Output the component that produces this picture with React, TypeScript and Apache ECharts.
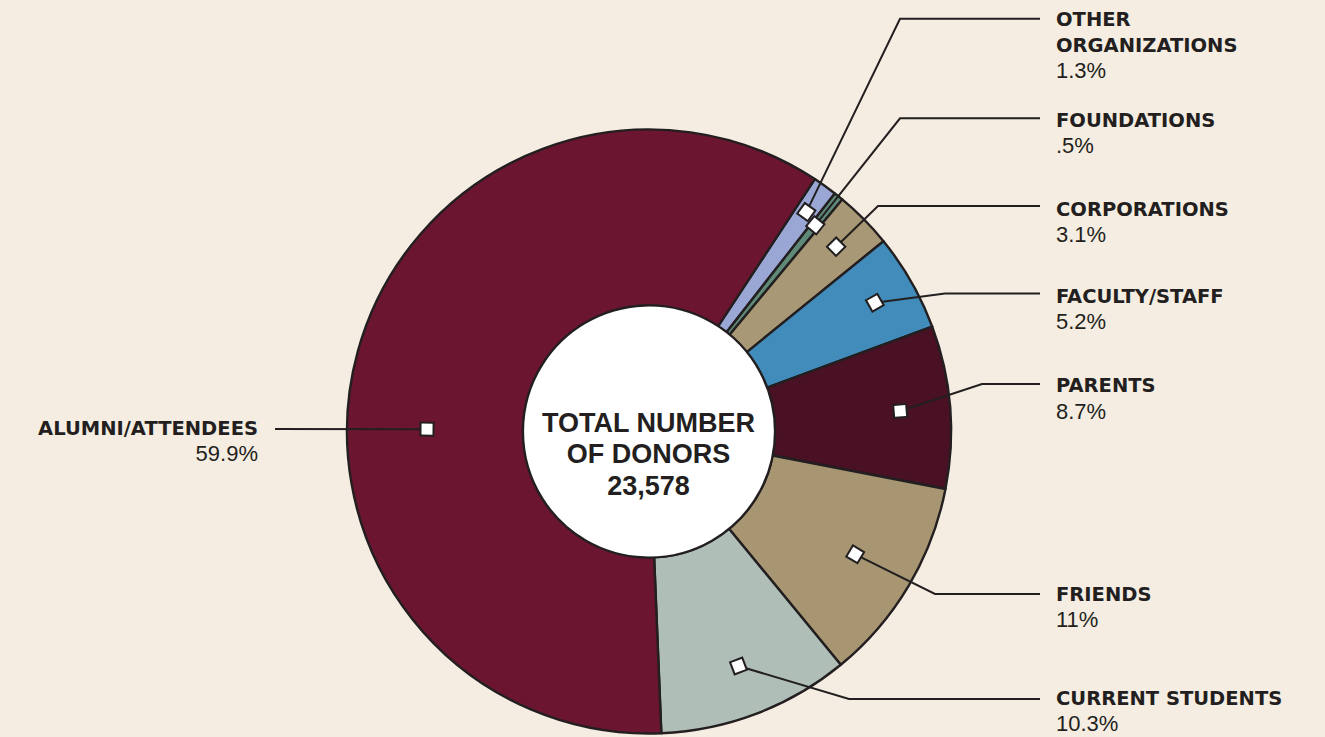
import React, { useEffect, useRef } from "react";
import * as echarts from "echarts";

// ---- data ----
const categories = [
  "OTHER\nORGANIZATIONS",
  "FOUNDATIONS",
  "CORPORATIONS",
  "FACULTY/STAFF",
  "PARENTS",
  "FRIENDS",
  "CURRENT STUDENTS",
  "ALUMNI/ATTENDEES",
];
const shares = [1.3, 0.5, 3.1, 5.2, 8.7, 11, 10.3, 59.9];
const shareLabels = ["1.3%", ".5%", "3.1%", "5.2%", "8.7%", "11%", "10.3%", "59.9%"];
const centerTitle = ["TOTAL NUMBER", "OF DONORS"];
const totalDonors = "23,578";

// ---- styling / layout ----
const colors = ["#9AA6D3", "#5F8A78", "#A89875", "#418CBA", "#4A1125", "#A89673", "#AFBFB8", "#6C1530"];
const INK = "#231F20";
const BG = "#F5EDE1";
const CX = 649;
const CY = 431.5;
const R_IN = 126;
const R_OUT = 302;
const START_FROM_TOP = 33.3; // degrees clockwise from 12 o'clock
const markerR = [270, 265, 263, 260, 252, 240, 251, 222];
const markerAngleOverride: (number | null)[] = [null, null, null, null, null, null, null, 270.6];
const elbowX = [900, 900, 878, 945, 982, 935, 849, 275];
const elbowY = [18.7, 118.3, 206, 293.5, 384, 594, 699, 429];
const lineEndX = [1040, 1040, 1040, 1040, 1040, 1040, 1040, 275];
const textY = [19.5, 120, 209, 296, 385.5, 594, 698, 428];
const LINE_H = 25.5;

export default function App() {
  const ref = useRef<HTMLDivElement>(null);
  useEffect(() => {
    if (!ref.current) return;
    const chart = echarts.init(ref.current, null, { renderer: "svg" });
    const total = shares.reduce((a, b) => a + b, 0);
    const graphics: any[] = [];

    graphics.push({
      type: "circle",
      z: 100,
      shape: { cx: CX, cy: CY, r: R_IN },
      style: { fill: "#FFFFFF", stroke: INK, lineWidth: 2.2 },
    });

    let cum = 0;
    const markers: any[] = [];
    shares.forEach((v, i) => {
      const a0 = START_FROM_TOP + (cum / total) * 360;
      cum += v;
      const a1 = START_FROM_TOP + (cum / total) * 360;
      const mid = markerAngleOverride[i] ?? (a0 + a1) / 2;
      const rad = (mid * Math.PI) / 180;
      const mx = CX + markerR[i] * Math.sin(rad);
      const my = CY - markerR[i] * Math.cos(rad);
      const pts =
        i === shares.length - 1
          ? [[mx, my], [lineEndX[i], elbowY[i]]]
          : [[mx, my], [elbowX[i], elbowY[i]], [lineEndX[i], elbowY[i]]];
      graphics.push({
        type: "polyline",
        z: 101,
        shape: { points: pts },
        style: { stroke: INK, lineWidth: 2, fill: null },
      });
      markers.push({
        type: "rect",
        z: 102,
        x: mx,
        y: my,
        rotation: -rad,
        shape: { x: -6.5, y: -6.5, width: 13, height: 13 },
        style: { fill: "#FFFFFF", stroke: INK, lineWidth: 2 },
      });

      const left = i === shares.length - 1;
      const tx = left ? 258 : 1056;
      const lines = categories[i].split("\n");
      lines.forEach((ln, k) => {
        graphics.push({
          type: "text",
          z: 103,
          x: tx,
          y: textY[i] + k * LINE_H,
          style: {
            text: ln,
            fill: INK,
            fontFamily: "DejaVu Sans",
            fontWeight: "bold",
            fontSize: 19.5,
            align: left ? "right" : "left",
            verticalAlign: "middle",
          },
        });
      });
      graphics.push({
        type: "text",
        z: 103,
        x: tx,
        y: textY[i] + lines.length * LINE_H,
        style: {
          text: shareLabels[i],
          fill: INK,
          fontFamily: "Liberation Sans",
          fontWeight: "normal",
          fontSize: 22,
          align: left ? "right" : "left",
          verticalAlign: "middle",
        },
      });
    });
    graphics.push(...markers);

    const centerLines = [...centerTitle, totalDonors];
    centerLines.forEach((t, k) => {
      graphics.push({
        type: "text",
        z: 104,
        x: CX - 0.5,
        y: 422.5 + k * 31.5,
        style: {
          text: t,
          fill: INK,
          fontFamily: "Liberation Sans",
          fontWeight: "bold",
          fontSize: 27,
          align: "center",
          verticalAlign: "middle",
        },
      });
    });

    chart.setOption({
      animation: false,
      backgroundColor: BG,
      series: [
        {
          type: "pie",
          center: [CX, CY],
          radius: [R_IN, R_OUT],
          startAngle: 90 - START_FROM_TOP,
          clockwise: true,
          silent: true,
          avoidLabelOverlap: false,
          label: { show: false },
          labelLine: { show: false },
          emphasis: { disabled: true },
          itemStyle: { borderColor: INK, borderWidth: 2.4 },
          data: shares.map((v, i) => ({
            name: categories[i].replace("\n", " "),
            value: v,
            itemStyle: { color: colors[i] },
          })),
        },
      ],
      graphic: { elements: graphics },
    });
    return () => chart.dispose();
  }, []);
  return (
    <div
      ref={ref}
      style={{ position: "fixed", left: 0, top: 0, width: 1325, height: 737 }}
    />
  );
}
